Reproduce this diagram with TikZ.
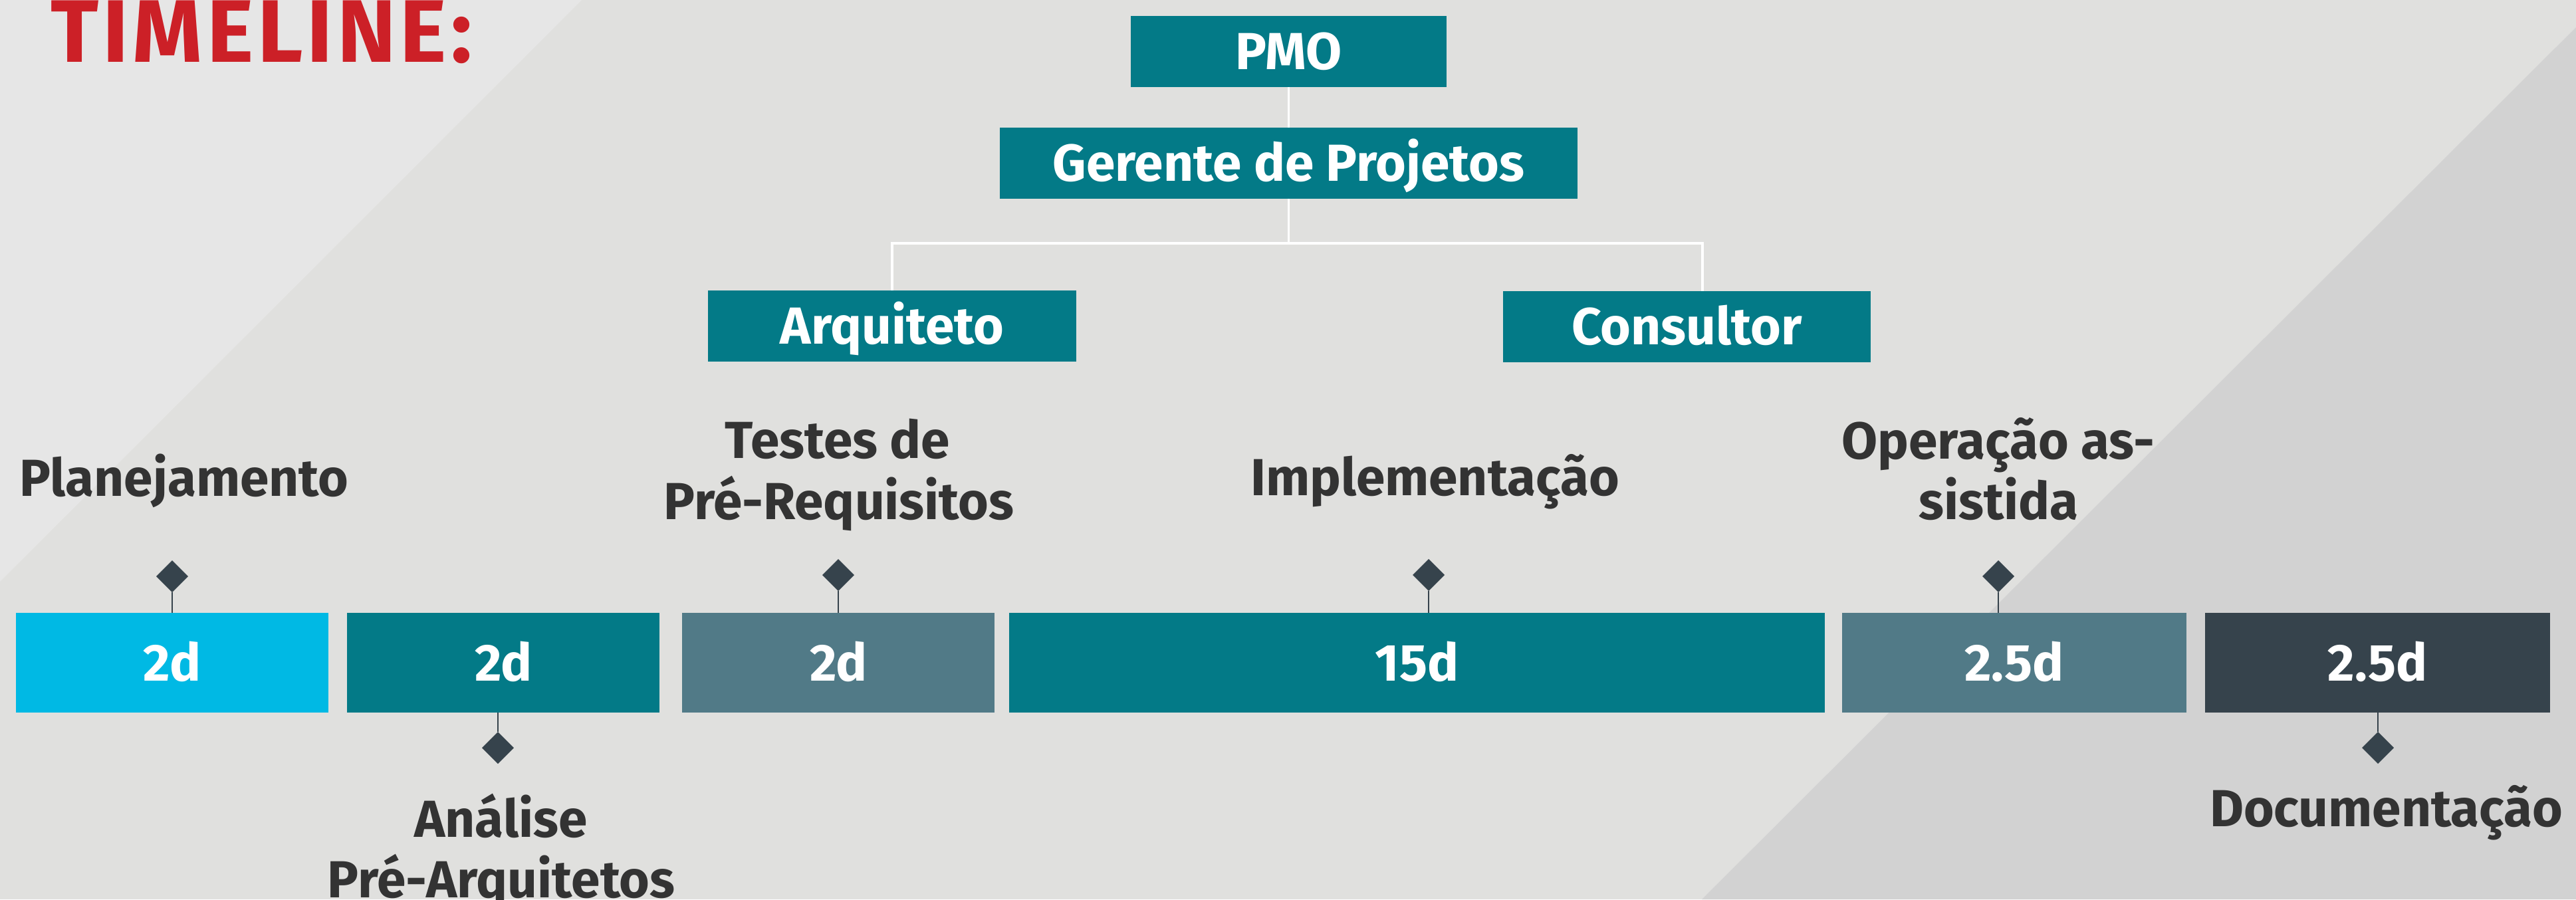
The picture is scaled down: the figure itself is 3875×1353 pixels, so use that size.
\documentclass[tikz,border=0pt]{standalone}
\usepackage{fontspec}
\setmainfont{Fira Sans}
\usetikzlibrary{shapes.geometric,calc}
\definecolor{teal}{HTML}{037A87}
\definecolor{cyanbar}{HTML}{00B9E4}
\definecolor{slate}{HTML}{517A87}
\definecolor{darkbar}{HTML}{36434C}
\definecolor{txt}{HTML}{333333}
\definecolor{redt}{HTML}{CC2027}
\definecolor{bgmid}{HTML}{E0E0DE}
\definecolor{bglight}{HTML}{E6E6E6}
\definecolor{bgdark}{HTML}{D2D2D2}
\tikzset{
  role/.style={fill=teal, text=white, inner sep=0pt, outer sep=0pt,
    minimum height=26.75pt, font=\fontsize{19.6pt}{23pt}\selectfont\bfseries,
    text height=13.5pt, text depth=0pt},
  bar/.style={inner sep=0pt, outer sep=0pt, minimum height=37.5pt, text=white,
    font=\fontsize{19.6pt}{23pt}\selectfont\bfseries, text height=13.5pt, text depth=0pt},
  lbl/.style={anchor=base, inner sep=0pt, text=txt, font=\fontsize{19.6pt}{23pt}\selectfont\bfseries},
  gem/.style={diamond, fill=darkbar, inner sep=0pt, outer sep=0pt, minimum width=12pt, minimum height=12pt},
  conn/.style={draw=white, line width=0.8pt},
  stem/.style={draw=darkbar, line width=0.7pt}
}
\begin{document}
\begin{tikzpicture}[x=0.25pt,y=-0.25pt]
\useasboundingbox (0,0) rectangle (3875,1353);
\fill[bgmid] (0,0) rectangle (3875,1353);
\fill[bglight] (0,0) -- (875,0) -- (0,875) -- cycle;
\fill[bgdark] (3875,41) -- (3875,1353) -- (2560,1353) -- cycle;

% title
\node[anchor=base west, inner sep=0pt, text=redt, font=\fontsize{33.4pt}{36pt}\selectfont\bfseries\addfontfeature{LetterSpace=4.5}] (title) at (76,93) {TIMELINE:};

% org chart
\node[role, minimum width=118.75pt] (pmo) at (1938.5,77.5) {PMO};
\node[role, minimum width=217.25pt] (ger) at (1938.5,245.5) {Gerente de Projetos};
\node[role, minimum width=138.5pt] (arq) at (1342,490.5) {Arquiteto};
\node[role, minimum width=138.25pt] (con) at (2537.5,491.5) {Consultor};
\coordinate (j) at (1938.5,366);
\coordinate (cn) at ([xshift=5.875pt]con.north);
\draw[conn] (pmo.south) -- (ger.north);
\draw[conn] (ger.south) -- (j);
\draw[conn] (arq.north) |- (j) -| (cn);

% bars
\node[bar, fill=cyanbar, minimum width=117.5pt] (b1) at (259,997) {2d};
\node[bar, fill=teal, minimum width=117.5pt] (b2) at (757,997) {2d};
\node[bar, fill=slate, minimum width=117.5pt] (b3) at (1261,997) {2d};
\node[bar, fill=teal, minimum width=306.75pt] (b4) at (2131.5,997) {15d};
\node[bar, fill=slate, minimum width=129.5pt] (b5) at (3030,997) {2.5d};
\node[bar, fill=darkbar, minimum width=129.75pt] (b6) at (3576.5,997) {2.5d};

% diamonds
\node[gem] (d1) at (259,867) {};
\node[gem] (d3) at (1261,865) {};
\node[gem] (d4) at (2149,865) {};
\node[gem] (d5) at (3006,867) {};
\node[gem] (d2) at (749,1125) {};
\node[gem] (d6) at (3577,1125) {};
\draw[stem] (d1.south) -- (d1.south |- b1.north);
\draw[stem] (d3.south) -- (d3.south |- b3.north);
\draw[stem] (d4.south) -- (d4.south |- b4.north);
\draw[stem] (d5.south) -- (d5.south |- b5.north);
\draw[stem] (d2.north) -- (d2.north |- b2.south);
\draw[stem] (d6.north) -- (d6.north |- b6.south);

% labels
\node[lbl] (l1) at (277,746) {Planejamento};
\node[lbl] (l3a) at (1260,689) {Testes de};
\node[lbl] (l3b) at (1262,781) {Pré-Requisitos};
\node[lbl] (l4) at (2158.5,745) {Implementação};
\node[lbl] (l5a) at (3006,690) {Operação as-};
\node[lbl] (l5b) at (3006.5,781) {sistida};
\node[lbl] (l6) at (3589.5,1243) {Documentação};
\node[lbl] (l2a) at (753.5,1259) {Análise};
\node[lbl] (l2b) at (754,1350) {Pré-Arquitetos};
\end{tikzpicture}
\end{document}
